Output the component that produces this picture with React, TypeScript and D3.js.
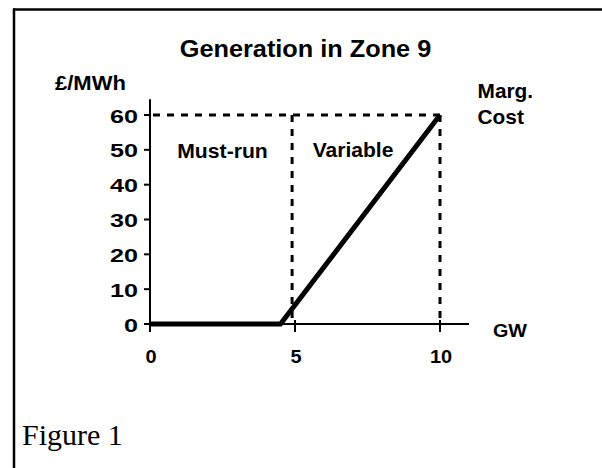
import React from "react";
import * as d3 from "d3";

// chart values
const xTicks = [0, 5, 10];
const yTicks = [0, 10, 20, 30, 40, 50, 60];
const costGW = [0, 4.5, 10];
const costPrice = [0, 0, 60];
const mustRunLimit = 4.9;
const capacity = 10;
const capPrice = 60;
const xAxisEnd = 11;
const yAxisEnd = 64.5;

const W = 602;
const H = 468;
const sans = "'Liberation Sans', Arial, sans-serif";

// stretched bold text, the source figure is wider than plain Arial
const Label = (props: any) => {
  const { x, y, sx = 1, size = 20, anchor = "start", children } = props;
  return (
    <text
      transform={`translate(${x},${y}) scale(${sx},1)`}
      textAnchor={anchor}
      fontFamily={sans}
      fontWeight="bold"
      fontSize={size}
      fill="#000"
    >
      {children}
    </text>
  );
};

export default function App() {
  const x = d3.scaleLinear().domain([0, 10]).range([150, 440]);
  const y = d3.scaleLinear().domain([0, 60]).range([324, 115]);

  const pts: [number, number][] = costGW.map((g, i) => [g, costPrice[i]]);
  const line = d3
    .line<[number, number]>()
    .x((d) => x(d[0]))
    .y((d) => y(d[1]));

  return (
    <svg
      width={W}
      height={H}
      style={{ position: "absolute", left: 0, top: 0, background: "#fff" }}
    >
      {/* frame: top and left edge only */}
      <line x1={13} x2={W} y1={9.5} y2={9.5} stroke="#000" strokeWidth={2.5} />
      <line x1={14} x2={14} y1={8.5} y2={H} stroke="#000" strokeWidth={2.5} />

      <Label x={305.5} y={57} size={23} sx={1.1} anchor="middle">
        Generation in Zone 9
      </Label>
      <Label x={55} y={90} size={20} sx={1.1}>
        £/MWh
      </Label>
      <Label x={477.5} y={97.5} size={19.5} sx={1.07}>
        Marg.
      </Label>
      <Label x={477.5} y={124} size={19.5} sx={1.07}>
        Cost
      </Label>
      <Label x={493} y={337} size={19} sx={1.04}>
        GW
      </Label>

      {/* dashed guides */}
      <g stroke="#000" strokeWidth={3} strokeDasharray="7,7" fill="none">
        <line x1={x(0) + 3} x2={x(capacity)} y1={y(capPrice)} y2={y(capPrice)} />
        <line x1={x(mustRunLimit)} x2={x(mustRunLimit)} y1={y(capPrice)} y2={y(0)} />
        <line x1={x(capacity)} x2={x(capacity)} y1={y(capPrice)} y2={y(0)} />
      </g>

      <Label x={x(2.5)} y={y(50) + 8} size={20} sx={1.06} anchor="middle">
        Must-run
      </Label>
      <Label x={x(7)} y={y(50) + 7} size={19.5} sx={1.08} anchor="middle">
        Variable
      </Label>

      {/* axes */}
      <g stroke="#000" strokeWidth={2}>
        <line x1={x(0)} x2={x(0)} y1={y(yAxisEnd)} y2={y(0) + 8} />
        <line x1={x(0)} x2={x(xAxisEnd)} y1={y(0)} y2={y(0)} />
        {yTicks.map((t) => (
          <line key={"yt" + t} x1={x(0) - 6} x2={x(0)} y1={y(t)} y2={y(t)} />
        ))}
        {xTicks.map((t) => (
          <line key={"xt" + t} x1={x(t)} x2={x(t)} y1={y(0) - 4} y2={y(0) + 8} />
        ))}
      </g>
      {yTicks.map((t) => (
        <Label key={"yl" + t} x={138} y={y(t) + 7.5} size={18} sx={1.4} anchor="end">
          {t}
        </Label>
      ))}
      {xTicks.map((t) => (
        <Label key={"xl" + t} x={x(t) + 1} y={363} size={19} sx={1.05} anchor="middle">
          {t}
        </Label>
      ))}

      {/* marginal cost curve */}
      <path
        d={line(pts) || ""}
        fill="none"
        stroke="#000"
        strokeWidth={5}
        strokeLinejoin="miter"
      />

      <text
        x={22}
        y={445}
        fontFamily="'Liberation Serif', 'Times New Roman', serif"
        fontSize={30}
        fill="#000"
      >
        Figure 1
      </text>
    </svg>
  );
}
